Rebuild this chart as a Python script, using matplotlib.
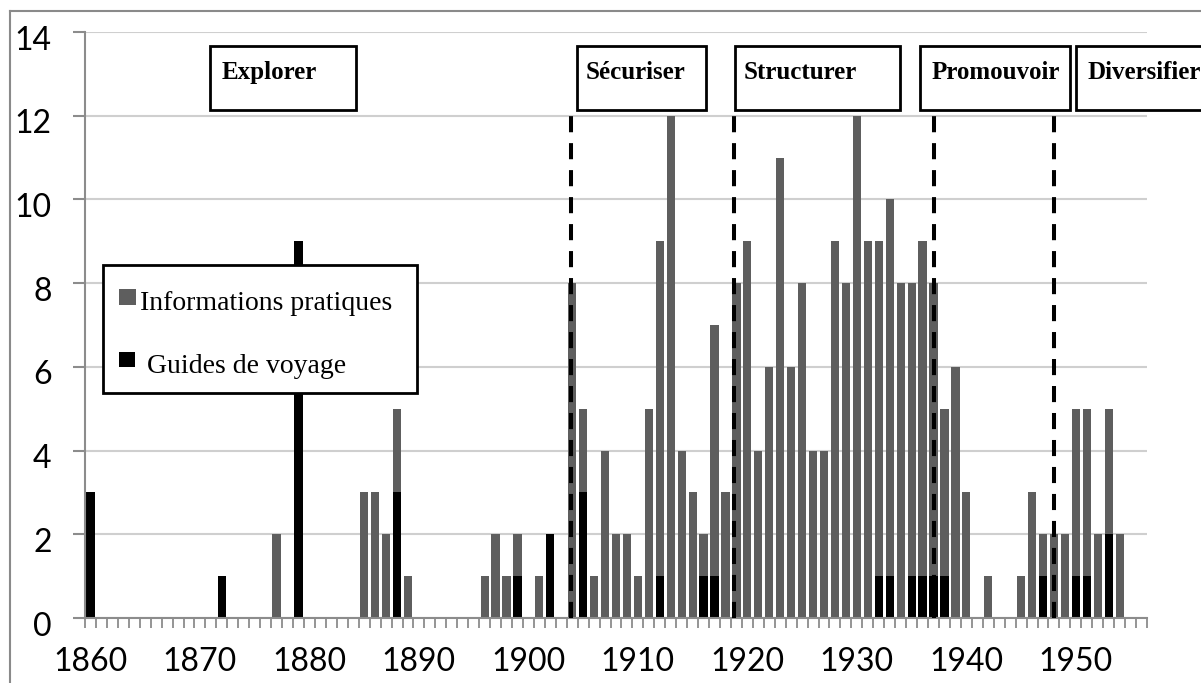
import numpy as np
import matplotlib
matplotlib.use("Agg")
import matplotlib.pyplot as plt
import matplotlib.transforms as mtransforms
from matplotlib.patches import Rectangle
from matplotlib.lines import Line2D

# yearly counts 1860-1956, one row per decade
years = np.arange(1860, 1957)
infos = [0, 0, 0, 0, 0, 0, 0, 0, 0, 0,
         0, 0, 0, 0, 0, 0, 0, 2, 0, 0,
         0, 0, 0, 0, 0, 3, 3, 2, 2, 1,
         0, 0, 0, 0, 0, 0, 1, 2, 1, 1,
         0, 1, 0, 0, 8, 2, 1, 4, 2, 2,
         1, 5, 8, 12, 4, 3, 1, 6, 3, 8,
         9, 4, 6, 11, 6, 8, 4, 4, 9, 8,
         12, 9, 8, 9, 8, 7, 8, 7, 4, 6,
         3, 0, 1, 0, 0, 1, 3, 1, 2, 2,
         4, 4, 2, 3, 2, 0, 0]
guides = [3, 0, 0, 0, 0, 0, 0, 0, 0, 0,
          0, 0, 1, 0, 0, 0, 0, 0, 0, 9,
          0, 0, 0, 0, 0, 0, 0, 0, 3, 0,
          0, 0, 0, 0, 0, 0, 0, 0, 0, 1,
          0, 0, 2, 0, 0, 3, 0, 0, 0, 0,
          0, 0, 1, 0, 0, 0, 1, 1, 0, 0,
          0, 0, 0, 0, 0, 0, 0, 0, 0, 0,
          0, 0, 1, 1, 0, 1, 1, 1, 1, 0,
          0, 0, 0, 0, 0, 0, 0, 1, 0, 0,
          1, 1, 0, 2, 0, 0, 0]
series = ["Informations pratiques", "Guides de voyage"]

# phases: label, box start, box end, text start
phases = ["Explorer", "Sécuriser", "Structurer", "Promouvoir", "Diversifier"]
phase_x0 = [1870.96, 1904.41, 1918.84, 1935.8, 1950.05]
phase_x1 = [1884.29, 1916.26, 1933.91, 1949.5, 1963.0]
phase_tx = [1871.96, 1905.2, 1919.7, 1936.8, 1951.1]
breaks = [1903.92, 1918.78, 1937.04, 1947.97]

GRAY = "#5e5e5e"
AXC = "#8c8c8c"
TICKFONT = "Lato"
SERIF = "Liberation Serif"

fig = plt.figure(figsize=(12.01, 6.83), dpi=100)
ax = fig.add_axes([85 / 1201, 1 - 618 / 683, 1062 / 1201, 586 / 683])

b1 = ax.bar(years, guides, width=0.75, color="black", zorder=2)
b2 = ax.bar(years, infos, width=0.75, bottom=guides, color=GRAY, zorder=2)

for xb in breaks:
    ax.plot([xb, xb], [0, 12.05], color="black", lw=2.9,
            dashes=(4, 2.7), zorder=3, solid_capstyle="butt")

for lab, x0, x1, tx in zip(phases, phase_x0, phase_x1, phase_tx):
    ax.add_patch(Rectangle((x0, 12.14), x1 - x0, 13.66 - 12.14,
                           facecolor="white", edgecolor="black", lw=2,
                           clip_on=False, zorder=4))
    ax.text(tx, 12.87, lab, fontsize=18, fontweight="bold", family=SERIF,
            ha="left", va="baseline", zorder=5, clip_on=False)

ax.set_xlim(1859.5, 1956.5)
ax.set_ylim(0, 14)

ax.set_yticks(np.arange(0, 15, 2))
ax.set_xticks(np.arange(1860, 1951, 10))
ax.set_xticks(np.arange(1859.5, 1957, 1), minor=True)
ax.tick_params(axis="x", which="major", length=0, pad=21, labelsize=23)
ax.tick_params(axis="x", which="minor", length=7, width=1.3, color=AXC)
ax.tick_params(axis="y", length=9, width=1.5, color=AXC, pad=15, labelsize=23)
shift = mtransforms.ScaledTranslation(0, -4 / 72, fig.dpi_scale_trans)
for lab in ax.get_yticklabels():
    lab.set_transform(lab.get_transform() + shift)
for lab in ax.get_xticklabels() + ax.get_yticklabels():
    lab.set_family(TICKFONT)

ax.grid(axis="y", color="#cfcfcf", lw=1.5, zorder=0)
ax.set_axisbelow(True)
for s in ("top", "right"):
    ax.spines[s].set_visible(False)
ax.spines["left"].set_color(AXC)
ax.spines["left"].set_linewidth(1.5)
ax.spines["bottom"].set_color(AXC)
ax.spines["bottom"].set_linewidth(1.5)

# legend box, drawn in axes fractions
tr = ax.transAxes
ax.add_patch(Rectangle((0.0167, 0.384), 0.2959, 0.2184, transform=tr,
                       facecolor="white", edgecolor="black", lw=2, zorder=6))
ax.add_patch(Rectangle((0.0320, 0.5341), 0.0160, 0.0273, transform=tr,
                       facecolor=GRAY, edgecolor="none", zorder=7))
ax.add_patch(Rectangle((0.0320, 0.4283), 0.0151, 0.0256, transform=tr,
                       facecolor="black", edgecolor="none", zorder=7))
ax.text(0.0518, 0.5256, series[0], transform=tr, family=SERIF, fontsize=20,
        va="baseline", ha="left", zorder=7)
ax.text(0.0581, 0.4181, series[1], transform=tr, family=SERIF, fontsize=20,
        va="baseline", ha="left", zorder=7)

# outer chart frame
fig.add_artist(Line2D([10 / 1201, 10 / 1201], [0, 1 - 11 / 683],
                      transform=fig.transFigure, color="#8a8a8a", lw=1.5))
fig.add_artist(Line2D([10 / 1201, 1], [1 - 11 / 683, 1 - 11 / 683],
                      transform=fig.transFigure, color="#8a8a8a", lw=1.5))

fig.savefig("out.png", dpi=100)
